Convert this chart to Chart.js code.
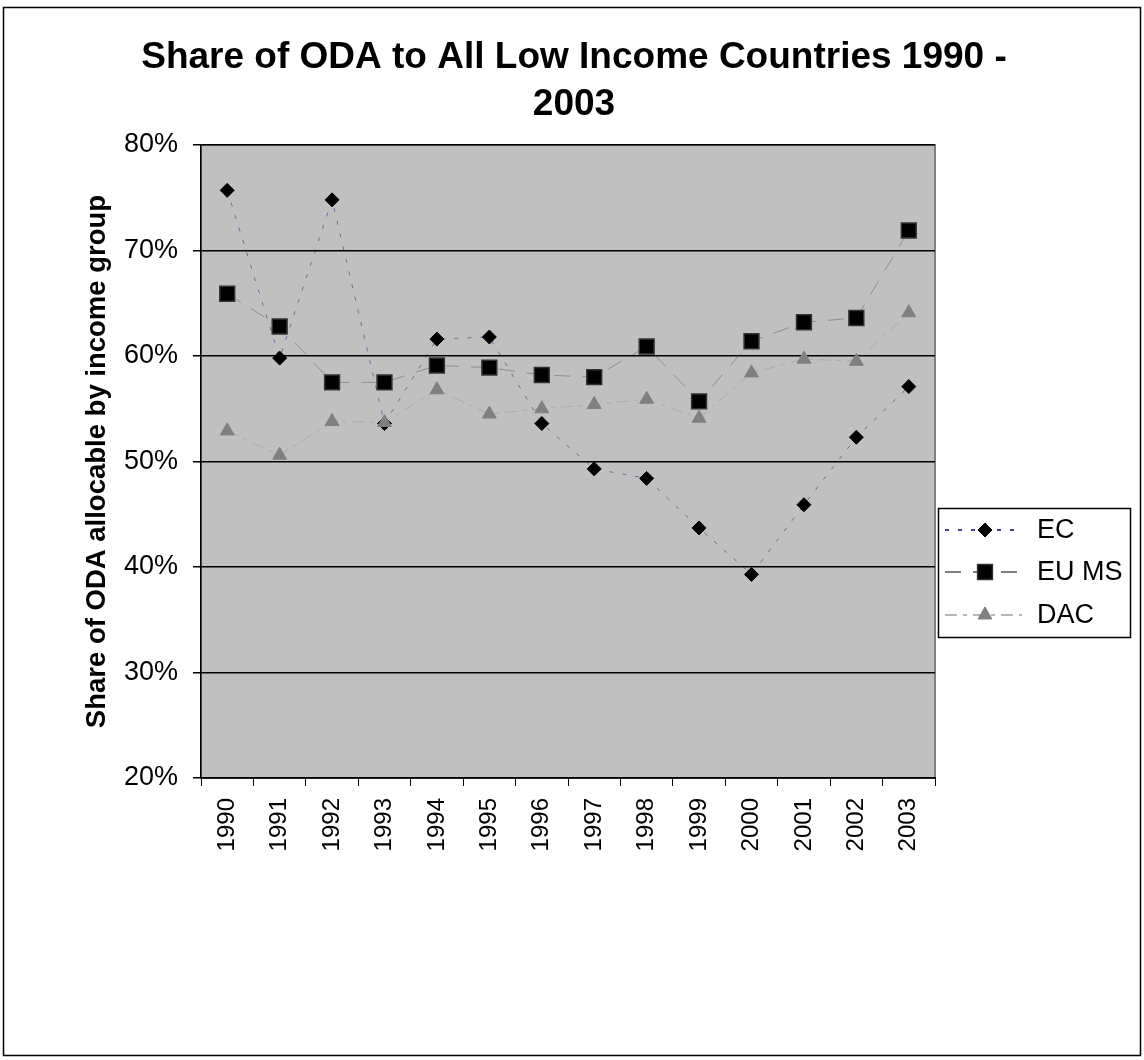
<!DOCTYPE html>
<html>
<head>
<meta charset="utf-8">
<script src="https://cdn.jsdelivr.net/npm/chart.js@4/dist/chart.umd.min.js"></script>
<style>
  body { margin: 0; background: #fff; }
  canvas { display: block; }
</style>
</head>
<body>
<canvas id="myChart" width="1144" height="1060"></canvas>
<script>
const years = ['1990', '1991', '1992', '1993', '1994', '1995', '1996', '1997', '1998', '1999', '2000', '2001', '2002', '2003']
const ecValues = [75.7, 59.8, 74.8, 53.6, 61.6, 61.8, 53.6, 49.3, 48.4, 43.7, 39.3, 45.9, 52.3, 57.1]
const euMsValues = [65.9, 62.8, 57.5, 57.5, 59.1, 58.9, 58.2, 58.0, 60.9, 55.7, 61.4, 63.2, 63.6, 71.9]
const dacValues = [52.9, 50.6, 53.8, 53.7, 56.8, 54.5, 55.0, 55.4, 55.9, 54.1, 58.4, 59.7, 59.5, 64.1]
const seriesNames = ['EC', 'EU MS', 'DAC']
const yTicks = [20, 30, 40, 50, 60, 70, 80]

const titleLines = ['Share of ODA to All Low Income Countries 1990 -', '2003']
const yTitle = 'Share of ODA allocable by income group'

// legend sample colours (the lines in the plot are drawn fainter)
const legendLineColors = ['#000080', '#555555', '#a0a0a0']

// background, plot area, titles and the legend box
const decorations = {
    id: 'decorations',
    beforeDraw(chart) {
        const ctx = chart.ctx
        const a = chart.chartArea
        ctx.save()
        ctx.fillStyle = '#fff'
        ctx.fillRect(0, 0, chart.width, chart.height)
        ctx.strokeStyle = '#000'
        ctx.lineWidth = 1.5
        ctx.strokeRect(3.5, 7.5, 1137, 1048)
        ctx.fillStyle = '#c0c0c0'
        ctx.fillRect(a.left, a.top, a.right - a.left, a.bottom - a.top)
        ctx.strokeStyle = '#808080'
        ctx.lineWidth = 2
        ctx.strokeRect(a.left, a.top, a.right - a.left, a.bottom - a.top)

        ctx.fillStyle = '#000'
        ctx.font = 'bold 37px "Liberation Sans", Arial, sans-serif'
        ctx.textAlign = 'center'
        ctx.textBaseline = 'alphabetic'
        ctx.fillText(titleLines[0], 574, 68)
        ctx.fillText(titleLines[1], 574, 115)

        ctx.translate(97, (a.top + a.bottom) / 2)
        ctx.rotate(-Math.PI / 2)
        ctx.font = 'bold 27.5px "Liberation Sans", Arial, sans-serif'
        ctx.textBaseline = 'middle'
        ctx.fillText(yTitle, 0, 0)
        ctx.restore()
    },
    afterDraw(chart) {
        const ctx = chart.ctx
        ctx.save()
        ctx.fillStyle = '#fff'
        ctx.fillRect(938.5, 508.5, 192, 129)
        ctx.strokeStyle = '#000'
        ctx.lineWidth = 1.5
        ctx.strokeRect(938.5, 508.5, 192, 129)
        const rows = [530, 572, 615]
        chart.data.datasets.forEach((ds, i) => {
            const y = rows[i]
            ctx.strokeStyle = legendLineColors[i]
            ctx.lineWidth = 1.5
            ctx.setLineDash(ds.borderDash)
            ctx.beginPath()
            ctx.moveTo(945, y)
            ctx.lineTo(1022, y)
            ctx.stroke()
            ctx.setLineDash([])
            ctx.fillStyle = ds.pointBackgroundColor
            ctx.strokeStyle = ds.pointBorderColor
            ctx.lineWidth = ds.pointBorderWidth
            Chart.helpers.drawPoint(ctx, {
                pointStyle: ds.pointStyle,
                radius: ds.pointRadius,
                rotation: 0,
                borderWidth: ds.pointBorderWidth
            }, 985, y)
            ctx.fillStyle = '#000'
            ctx.font = '27px "Liberation Sans", Arial, sans-serif'
            ctx.textAlign = 'left'
            ctx.textBaseline = 'middle'
            ctx.fillText(ds.label, 1037, y + 1)
        })
        ctx.restore()
    }
}

const ctx = document.getElementById('myChart')
const myChart = new Chart(ctx, {
    type: 'line',
    data: {
        labels: years,
        datasets: [{
            label: seriesNames[0],
            data: ecValues,
            borderColor: 'rgba(0,0,128,0.45)',
            borderWidth: 1,
            borderDash: [4, 9],
            pointStyle: 'rectRot',
            pointRadius: 7,
            pointBackgroundColor: '#000',
            pointBorderColor: '#000',
            pointBorderWidth: 1,
            order: 3
        }, {
            label: seriesNames[1],
            data: euMsValues,
            borderColor: 'rgba(80,80,80,0.45)',
            borderWidth: 1,
            borderDash: [16, 12],
            pointStyle: 'rect',
            pointRadius: 10.5,
            pointBackgroundColor: '#000',
            pointBorderColor: '#333',
            pointBorderWidth: 1.5,
            order: 2
        }, {
            label: seriesNames[2],
            data: dacValues,
            borderColor: 'rgba(150,150,150,0.5)',
            borderWidth: 1,
            borderDash: [12, 6, 4, 6],
            pointStyle: 'triangle',
            pointRadius: 8,
            pointBackgroundColor: '#808080',
            pointBorderColor: '#808080',
            pointBorderWidth: 1,
            order: 1
        }]
    },
    options: {
        responsive: false,
        animation: false,
        layout: { padding: { left: 0, top: 145, right: 209, bottom: 0 } },
        plugins: {
            legend: { display: false },
            title: { display: false },
            tooltip: { enabled: false }
        },
        scales: {
            x: {
                offset: true,
                grid: { offset: true, drawOnChartArea: false, color: '#000', tickLength: 8 },
                border: { color: '#000', width: 1.5 },
                ticks: {
                    autoSkip: false,
                    minRotation: 90,
                    maxRotation: 90,
                    padding: 12,
                    color: '#000',
                    font: { family: '"Liberation Sans", Arial, sans-serif', size: 24 }
                },
                afterFit(scale) { scale.height = 282 }
            },
            y: {
                min: 20,
                max: 80,
                afterBuildTicks(scale) { scale.ticks = yTicks.map(v => ({ value: v })) },
                grid: { color: '#000', lineWidth: 1.5, tickLength: 8 },
                border: { color: '#000', width: 1.5 },
                ticks: {
                    padding: 15,
                    color: '#000',
                    font: { family: '"Liberation Sans", Arial, sans-serif', size: 27 },
                    callback: v => v + '%'
                },
                afterFit(scale) { scale.width = 201 }
            }
        }
    },
    plugins: [decorations]
})
</script>
</body>
</html>
